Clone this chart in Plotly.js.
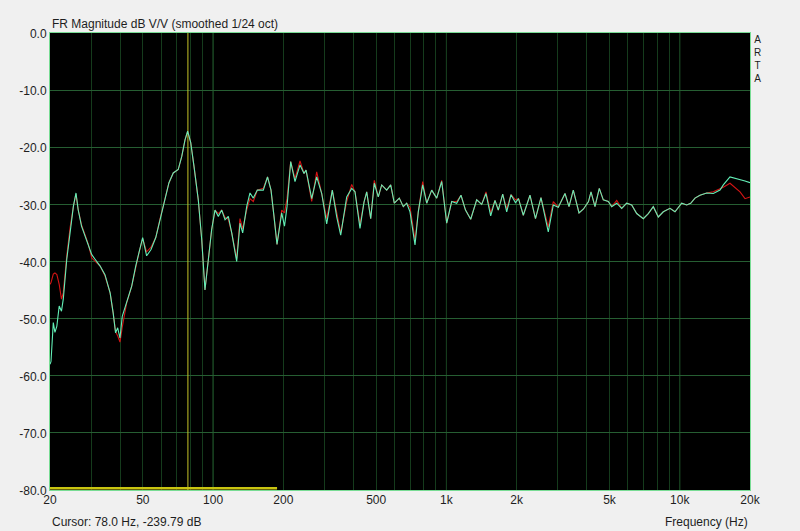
<!DOCTYPE html>
<html>
<head>
<meta charset="utf-8">
<script src="https://cdn.plot.ly/plotly-3.0.1.min.js"></script>
<style>html,body{margin:0;padding:0;background:#f0f0f0;}#chart{width:800px;height:531px;}</style>
</head>
<body>
<div id="chart"></div>
<script>
// Frequency points (Hz)
var freq = [20, 20.2, 20.66, 21.0, 21.4, 21.9, 22.4, 22.8, 23.6, 24.4, 25.2, 25.85, 26.4, 27.3, 28.25, 29.2, 30.2, 31.2, 32.8, 34.4, 36.2, 37.3, 38.2, 39.0, 39.9, 40.8, 42.6, 44.8, 46.6, 48.1, 49.9, 51.9, 54.2, 56.8, 59.2, 61.8, 64.7, 67.5, 70.9, 73.4, 75.8, 77.8, 80.2, 82.8, 86.4, 89.4, 92.3, 95.4, 98.6, 101.9, 105.3, 108.9, 112.5, 116.2, 120.2, 126.2, 130.4, 133.9, 139.3, 143.9, 148.7, 154.7, 164.1, 171.1, 177.1, 182.4, 187.9, 196.8, 202.3, 207.4, 215.1, 224.4, 235.8, 245.3, 250.2, 264.6, 278.0, 292.1, 306.8, 324.3, 338.7, 352.3, 373.8, 392.7, 405.7, 426.2, 443.4, 455.4, 473.7, 490.8, 510.5, 528.0, 554.7, 577.0, 597.8, 628.1, 653.4, 675.7, 698.1, 733.4, 757.6, 791.3, 823.1, 864.7, 908.5, 954.4, 1002.7, 1053.4, 1106.7, 1154.7, 1207.2, 1270.7, 1348.1, 1416.4, 1477.8, 1547.9, 1614.9, 1668.4, 1742.5, 1812.7, 1891.2, 1977.1, 2036.6, 2135.2, 2280.8, 2408, 2542, 2732, 2871, 3016, 3222, 3352, 3497, 3700, 3868, 4063, 4165, 4332, 4520, 4702, 4940, 5110, 5368, 5638, 5923, 6223, 6538, 6978, 7332, 7702, 8091, 8501, 9081, 9540, 10192, 10708, 11139, 11622, 12210, 13044, 13932, 14876, 15368, 16414, 18124, 19038, 20000];

// Light green/cyan trace (dB)
var greenDb = [-58.0, -57.5, -50.7, -52.4, -51.3, -47.8, -48.7, -46.6, -39.6, -34.4, -30.3, -28.0, -30.9, -33.8, -35.6, -37.3, -38.8, -39.6, -40.8, -42.3, -45.5, -49.0, -52.5, -51.6, -53.4, -49.6, -47.0, -44.3, -40.8, -38.5, -35.8, -39.0, -37.9, -35.8, -32.6, -29.7, -26.2, -24.5, -23.9, -21.6, -18.7, -17.2, -19.2, -23.3, -29.2, -36.2, -45.0, -39.7, -34.4, -31.0, -32.1, -31.0, -32.7, -32.1, -35.0, -40.0, -33.3, -35.0, -30.4, -28.0, -28.9, -27.5, -27.5, -25.2, -27.5, -32.1, -37.0, -31.5, -33.8, -30.4, -22.5, -26.0, -23.1, -24.6, -24.0, -29.0, -25.2, -28.1, -33.4, -27.5, -32.2, -35.4, -28.7, -27.2, -27.8, -34.2, -29.6, -27.8, -32.5, -26.3, -28.7, -26.6, -27.5, -26.6, -29.8, -28.9, -30.4, -29.8, -31.3, -37.1, -31.3, -26.6, -29.8, -27.5, -28.9, -26.0, -33.3, -29.5, -29.8, -28.4, -31.0, -32.6, -29.2, -30.0, -28.1, -32.0, -29.3, -31.0, -28.2, -31.3, -28.3, -29.7, -29.0, -31.9, -28.4, -32.5, -28.8, -34.8, -30.1, -30.5, -28.1, -30.4, -27.5, -31.5, -30.8, -29.5, -27.8, -30.4, -27.2, -29.2, -29.5, -30.4, -29.8, -30.7, -29.8, -30.1, -31.6, -32.5, -31.6, -30.4, -32.2, -31.3, -30.7, -31.3, -29.8, -30.1, -29.8, -28.9, -28.4, -28.0, -28.1, -27.5, -26.6, -25.2, -25.6, -25.9, -26.2];

// Red trace (dB)
var redDb = [-44.0, -43.7, -42.2, -42.0, -42.3, -44.0, -46.6, -45.5, -39.0, -34.0, -30.3, -28.2, -30.9, -33.6, -35.3, -37.0, -39.4, -40.0, -40.8, -42.5, -45.5, -49.0, -52.3, -53.0, -54.1, -51.5, -47.3, -44.3, -40.8, -38.5, -36.0, -38.3, -37.5, -35.8, -32.6, -29.7, -26.2, -24.5, -23.9, -21.6, -18.7, -17.2, -19.2, -23.3, -29.2, -36.2, -45.0, -39.7, -34.4, -31.0, -31.6, -31.0, -32.3, -32.6, -35.0, -39.5, -32.5, -34.3, -31.0, -29.0, -29.5, -27.5, -27.2, -25.2, -27.5, -32.1, -37.0, -31.0, -31.5, -29.0, -22.5, -25.5, -22.4, -24.6, -24.0, -29.5, -24.3, -28.1, -32.5, -27.5, -31.5, -35.0, -29.5, -26.5, -27.8, -33.5, -29.6, -27.8, -32.5, -25.8, -28.7, -26.6, -27.5, -26.6, -29.8, -28.9, -30.4, -29.8, -30.5, -36.2, -31.3, -26.0, -29.8, -27.5, -28.9, -25.8, -33.3, -29.5, -29.5, -28.4, -31.0, -32.6, -29.2, -30.0, -27.8, -31.5, -29.3, -31.0, -28.2, -30.8, -28.3, -29.2, -29.0, -31.9, -28.4, -32.5, -28.8, -34.0, -29.5, -30.5, -28.1, -30.4, -27.5, -31.5, -30.8, -29.5, -27.8, -30.4, -27.2, -29.2, -29.5, -30.4, -29.3, -30.7, -29.8, -30.1, -31.6, -32.5, -31.6, -30.4, -32.2, -31.3, -30.7, -31.3, -29.8, -30.1, -29.8, -28.9, -28.4, -28.0, -27.8, -27.3, -27.0, -26.3, -27.8, -29.0, -28.7];

// Cursor marker and generator band
var cursorFreq = [78, 78];
var cursorDb = [-80, 0];
var bandFreq = [20, 188];
var bandDb = [-79.7, -79.7];

// Axis ticks
var xTickVals = [20, 50, 100, 200, 500, 1000, 2000, 5000, 10000, 20000];
var xTickText = ['20', '50', '100', '200', '500', '1k', '2k', '5k', '10k', '20k'];
var xMinorVals = [30, 40, 60, 70, 80, 90, 300, 400, 600, 700, 800, 900, 3000, 4000, 6000, 7000, 8000, 9000];
var xDecades = [100, 1000, 10000];
var yTickVals = [0, -10, -20, -30, -40, -50, -60, -70, -80];
var yTickText = ['0.0', '-10.0', '-20.0', '-30.0', '-40.0', '-50.0', '-60.0', '-70.0', '-80.0'];

var FONT = 'Liberation Sans, Arial, sans-serif';
var TXT = '#1e1e1e';

var traces = [
  {x: bandFreq, y: bandDb, type: 'scatter', mode: 'lines', line: {color: '#c8c410', width: 2.5}, hoverinfo: 'skip'},
  {x: cursorFreq, y: cursorDb, type: 'scatter', mode: 'lines', line: {color: '#c8c428', width: 1}, hoverinfo: 'skip'},
  {x: freq, y: redDb, type: 'scatter', mode: 'lines', line: {color: '#d41414', width: 1.1}},
  {x: freq, y: greenDb, type: 'scatter', mode: 'lines', line: {color: '#62eeb6', width: 1.1}}
];

var shapes = xDecades.map(function (f) {
  return {type: 'line', xref: 'x', yref: 'paper', x0: f, x1: f, y0: 0, y1: 1, layer: 'below', line: {color: '#2a6c36', width: 1}};
});

function paperY(px) { return (490 - px) / 457; }

var annotations = [
  {text: 'Cursor: 78.0 Hz, -239.79 dB', xref: 'paper', yref: 'paper', x: 0, y: paperY(521.5), xanchor: 'left', yanchor: 'middle', showarrow: false, font: {family: FONT, size: 12, color: TXT}},
  {text: 'Frequency (Hz)', xref: 'paper', yref: 'paper', x: 1, y: paperY(521.5), xanchor: 'right', yanchor: 'middle', showarrow: false, font: {family: FONT, size: 12, color: TXT}},
  {text: 'A<br>R<br>T<br>A', xref: 'paper', yref: 'paper', x: (758 - 50) / 700, y: paperY(32), xanchor: 'center', yanchor: 'top', align: 'center', showarrow: false, font: {family: FONT, size: 10, color: TXT}}
];

var layout = {
  width: 800, height: 531,
  margin: {l: 50, r: 50, t: 33, b: 41, pad: 0},
  paper_bgcolor: '#f0f0f0',
  plot_bgcolor: '#000000',
  showlegend: false,
  title: {text: 'FR Magnitude dB V/V (smoothed 1/24 oct)', x: 52 / 800, xref: 'container', xanchor: 'left', y: 1 - 24 / 531, yref: 'container', yanchor: 'middle', font: {family: FONT, size: 12, color: TXT}},
  xaxis: {
    type: 'log', range: [Math.log10(20), Math.log10(20000)],
    tickmode: 'array', tickvals: xTickVals, ticktext: xTickText,
    showgrid: true, gridcolor: '#153b1c', gridwidth: 1,
    minor: {tickmode: 'array', tickvals: xMinorVals, showgrid: true, gridcolor: '#153b1c', gridwidth: 1, ticks: ''},
    ticks: '', ticklabelstandoff: -1, showline: true, linecolor: '#78dc94', linewidth: 1, mirror: true, zeroline: false,
    tickfont: {family: FONT, size: 12, color: TXT}
  },
  yaxis: {
    range: [-80, 0], tickmode: 'array', tickvals: yTickVals, ticktext: yTickText,
    showgrid: true, gridcolor: '#265e32', gridwidth: 1,
    ticks: '', ticklabelshift: 1, showline: true, linecolor: '#78dc94', linewidth: 1, mirror: true, zeroline: false,
    tickfont: {family: FONT, size: 12, color: TXT}
  },
  shapes: shapes,
  annotations: annotations
};

Plotly.newPlot('chart', traces, layout, {displayModeBar: false, staticPlot: true});
</script>
</body>
</html>
